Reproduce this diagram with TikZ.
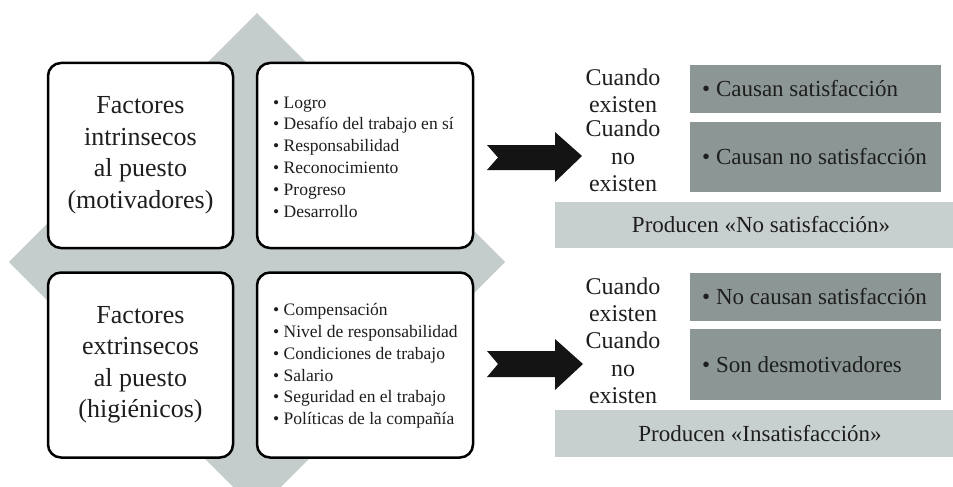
\documentclass[tikz,border=0pt]{standalone}
\usepackage{fontspec}
\setmainfont{Liberation Serif}
\definecolor{diam}{HTML}{C5CDCC}
\definecolor{darkbox}{HTML}{8C9795}
\definecolor{lightbox}{HTML}{C8D0CF}
\definecolor{ink}{HTML}{1E1E1E}
\tikzset{
  rbox/.style={draw=black, line width=2.5pt, rounded corners=13pt, fill=white, minimum width=185pt, minimum height=185pt, inner sep=0pt},
  titletxt/.style={align=center, font=\fontsize{26}{31.5}\selectfont, text=ink, inner sep=0pt},
  listtxt/.style={align=left, font=\fontsize{17.5}{21.8}\selectfont, text=ink, inner sep=0pt, anchor=west},
  whentxt/.style={align=center, font=\fontsize{24}{27.5}\selectfont, text=ink, inner sep=0pt},
  dbox/.style={fill=darkbox, minimum width=251pt, inner sep=0pt},
  lbox/.style={fill=lightbox, minimum width=398pt, minimum height=46pt, inner sep=0pt},
  ltxt/.style={font=\fontsize{23}{27}\selectfont, text=ink, inner sep=0pt},
  dtxt/.style={font=\fontsize{23}{27}\selectfont, text=ink, inner sep=0pt, anchor=west},
  blockarrow/.style={fill=black!92}
}
\begin{document}
\begin{tikzpicture}[x=1pt,y=-1pt]
\useasboundingbox (0,0) rectangle (953,487);
\clip (0,0) rectangle (953,487);
% diamond
\fill[diam] (257,13) -- (505,262) -- (257,511) -- (9,262) -- cycle;
% rounded boxes
\node[rbox] (b1) at (140.5,155.5) {};
\node[rbox, minimum width=216pt] (b2) at (365,155.5) {};
\node[rbox] (b3) at (140.5,365) {};
\node[rbox, minimum width=216pt] (b4) at (365,365) {};
\node[titletxt] (t1) at (b1.center) {Factores\\intrinsecos\\al puesto\\(motivadores)};
\node[titletxt] (t3) at (b3.center) {Factores\\extrinsecos\\al puesto\\(higiénicos)};
\node[listtxt] (l2) at (273,157) {\textbullet\ Logro\\\textbullet\ Desafío del trabajo en sí\\\textbullet\ Responsabilidad\\\textbullet\ Reconocimiento\\\textbullet\ Progreso\\\textbullet\ Desarrollo};
\node[listtxt] (l4) at (273,366) {\textbullet\ Compensación\\\textbullet\ Nivel de responsabilidad\\\textbullet\ Condiciones de trabajo\\\textbullet\ Salario\\\textbullet\ Seguridad en el trabajo\\\textbullet\ Políticas de la compañía};
% block arrows
\fill[blockarrow] (487,145) -- (555,145) -- (555,132) -- (582,156) -- (555,182) -- (555,170) -- (487,170) -- (498,157.5) -- cycle;
\fill[blockarrow] (487,351) -- (555,351) -- (555,339) -- (583,364) -- (555,390) -- (555,377) -- (487,377) -- (498,364) -- cycle;
% when texts
\node[whentxt] (w1) at (623,91) {Cuando\\existen};
\node[whentxt] (w2) at (623,156) {Cuando\\no\\existen};
\node[whentxt] (w3) at (623,300) {Cuando\\existen};
\node[whentxt] (w4) at (623,368) {Cuando\\no\\existen};
% dark boxes
\node[dbox, minimum height=48pt] (d1) at (815.5,89) {};
\node[dbox, minimum height=70pt] (d2) at (815.5,157) {};
\node[dbox, minimum height=48pt] (d3) at (815.5,297) {};
\node[dbox, minimum height=71pt] (d4) at (815.5,364.5) {};
\node[dtxt] (dt1) at (702,89) {\textbullet\ Causan satisfacción};
\node[dtxt] (dt2) at (702,157) {\textbullet\ Causan no satisfacción};
\node[dtxt] (dt3) at (702,297) {\textbullet\ No causan satisfacción};
\node[dtxt] (dt4) at (702,364.5) {\textbullet\ Son desmotivadores};
% light boxes
\node[lbox] (p1) at (754,225) {};
\node[lbox, minimum height=47pt] (p2) at (754,433.5) {};
\node[ltxt] (pt1) at (761,225) {Producen «No satisfacción»};
\node[ltxt] (pt2) at (760,433.5) {Producen «Insatisfacción»};
\end{tikzpicture}
\end{document}
